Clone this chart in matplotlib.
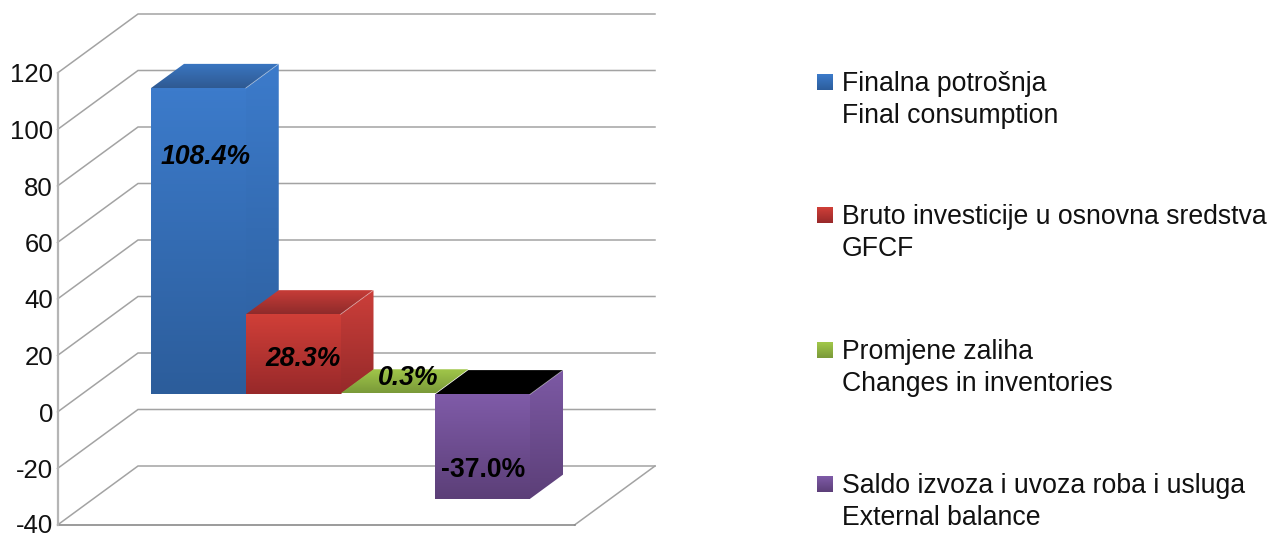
import numpy as np
from matplotlib import pyplot as plt
from matplotlib.patches import Polygon
from matplotlib.colors import LinearSegmentedColormap

plt.rcParams['font.family'] = ['Liberation Sans', 'DejaVu Sans']

values = [108.4, 28.3, 0.3, -37.0]
value_labels = ['108.4%', '28.3%', '0.3%', '-37.0%']
ticks = [-40, -20, 0, 20, 40, 60, 80, 100, 120]
names = [
    'Finalna potrošnja\nFinal consumption',
    'Bruto investicije u osnovna sredstva\nGFCF',
    'Promjene zaliha\nChanges in inventories',
    'Saldo izvoza i uvoza roba i usluga\nExternal balance',
]

# colours per bar: front top/bottom, roof back/front, side top/bottom
front_cols = [('#3c7bcb', '#2c5d9b'), ('#d03f38', '#98292a'), ('#a2c84a', '#7a9a39'), ('#7f5ba8', '#5c3f78')]
roof_cols = [('#3a76c2', '#2f5a92'), ('#c93d38', '#8f2b2b'), ('#a2c84a', '#7a9a39'), ('#000000', '#000000')]
side_cols = [('#3c7bcb', '#2c5d9b'), ('#cc3f3a', '#962a2a'), ('#a2c84a', '#7a9a39'), ('#7c59a4', '#5c3f78')]

W, H = 1273, 534
PX_X = 94.75    # one bar slot in pixels
PX_Y = 2.825    # one unit of value in pixels
LEFT = 57.5
ZERO = 412.0
DEPTH_X = 80.5 / PX_X
DEPTH_Y = 59 / PX_Y
FLOOR_W = (574.5 - LEFT) / PX_X
BAR_D0 = 0.30
BAR_D1 = 0.71
BAR_X0 = (151 - LEFT) / PX_X - BAR_D0 * DEPTH_X

fig = plt.figure(figsize=(W / 100, H / 100), dpi=100)
ax = fig.add_axes([0, 0, 1, 1])
ax.set_xlim(-LEFT / PX_X, (W - LEFT) / PX_X)
ax.set_ylim((ZERO - H) / PX_Y, ZERO / PX_Y)
ax.axis('off')


def proj(x, v, d):
    return x + d * DEPTH_X, v + d * DEPTH_Y


def gradient_face(axes, pts, c_top, c_bottom, z):
    pts = np.array(pts)
    cmap = LinearSegmentedColormap.from_list('f', [c_top, c_bottom])
    grad = np.linspace(0, 1, 64).reshape(-1, 1)
    ymin, ymax = pts[:, 1].min(), pts[:, 1].max()
    if axes.yaxis_inverted():
        ymin, ymax = ymax, ymin
    im = axes.imshow(grad, cmap=cmap, aspect='auto', zorder=z, interpolation='bilinear',
                     extent=(pts[:, 0].min(), pts[:, 0].max(), ymin, ymax), origin='upper')
    poly = Polygon(pts, closed=True, transform=axes.transData, fc='none', ec='none')
    axes.add_patch(poly)
    im.set_clip_path(poly)


# walls and floor
grid = '#a3a3a3'
for t in ticks:
    x1, y1 = proj(0, t, 1)
    x2 = x1 + FLOOR_W
    ax.plot([0, x1, x2], [t, y1, y1], color=grid, lw=1.1, zorder=1, solid_joinstyle='miter')
    # lowest label sits right at the picture edge, lift it a touch
    label_at = t + 0.5 if t == ticks[0] else t
    ax.text(-4.5 / PX_X, label_at, str(t), ha='right', va='center_baseline', fontsize=18.5, color='#111111')
x1, y1 = proj(FLOOR_W, ticks[0], 1)
ax.plot([FLOOR_W, x1], [ticks[0], y1], color=grid, lw=1.1, zorder=1)
ax.plot([0, FLOOR_W], [ticks[0], ticks[0]], color='#8a8a8a', lw=1.2, zorder=1)
ax.plot([0, 0], [ticks[0], ticks[-1]], color='#b5b5b5', lw=1.6, zorder=1)

# bars
for i, v in enumerate(values):
    xa, xb = BAR_X0 + i, BAR_X0 + i + 1
    low, high = min(v, 0), max(v, 0)
    z = 3 + i
    fa = proj(xa, low, BAR_D0)
    fb = proj(xb, low, BAR_D0)
    fc = proj(xb, high, BAR_D0)
    fd = proj(xa, high, BAR_D0)
    bb = proj(xb, low, BAR_D1)
    bc = proj(xb, high, BAR_D1)
    bd = proj(xa, high, BAR_D1)
    if high - low > 1:
        gradient_face(ax, [fb, bb, bc, fc], side_cols[i][0], side_cols[i][1], z)
    gradient_face(ax, [fd, fc, bc, bd], roof_cols[i][0], roof_cols[i][1], z)
    if high - low > 1:
        gradient_face(ax, [fa, fb, fc, fd], front_cols[i][0], front_cols[i][1], z)
        ax.plot([fc[0], bc[0]], [fc[1], bc[1]], color='#ffffff', lw=0.7, alpha=0.35, zorder=z)

# value labels, placed relative to each bar
label_dx = [0.58, 0.60, 0.71, 0.51]
label_y = [(ZERO - 157) / PX_Y, (ZERO - 359) / PX_Y, (ZERO - 378) / PX_Y, (ZERO - 470) / PX_Y]
for i, lab in enumerate(value_labels):
    style = 'normal' if values[i] < 0 else 'italic'
    ax.text(BAR_X0 + BAR_D0 * DEPTH_X + i + label_dx[i], label_y[i], lab, ha='center', va='center',
            fontsize=19.2, fontweight='bold', fontstyle=style, color='black', zorder=10)

ax.set_xlim(-LEFT / PX_X, (W - LEFT) / PX_X)
ax.set_ylim((ZERO - H) / PX_Y, ZERO / PX_Y)

# legend, laid out in pixels
lax = fig.add_axes([0, 0, 1, 1])
lax.set_xlim(0, W)
lax.set_ylim(H, 0)
lax.axis('off')
lax.patch.set_alpha(0)
leg_y = [82, 215, 350, 484]
for i, name in enumerate(names):
    y = leg_y[i]
    gradient_face(lax, [(817, y - 8), (833, y - 8), (833, y + 8), (817, y + 8)],
                  front_cols[i][0], front_cols[i][1], 5)
    first, second = name.split('\n')
    lax.text(842, y - 1, first, va='center_baseline', fontsize=19.2, color='#111111')
    lax.text(842, y + 31, second, va='center_baseline', fontsize=19.2, color='#111111')
lax.set_xlim(0, W)
lax.set_ylim(H, 0)

fig.savefig('out.png', dpi=100, facecolor='white')
